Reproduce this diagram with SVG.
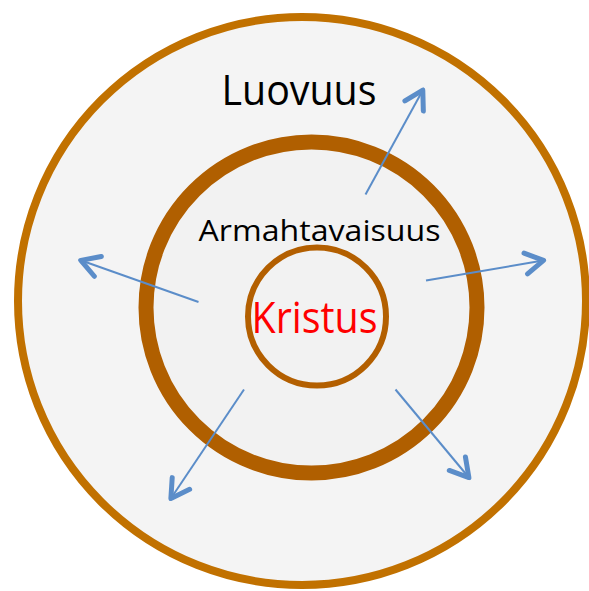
<svg xmlns="http://www.w3.org/2000/svg" width="589" height="591" viewBox="0 0 589 591">
  <style>
    .lbl { font-family: "Open Sans", "Noto Sans", "Liberation Sans", sans-serif; fill: #000000; }
    .arrow { stroke: #5B8DC9; stroke-width: 2; fill: none; marker-end: url(#head); }
  </style>
  <defs>
    <marker id="head" markerUnits="userSpaceOnUse" viewBox="-24 -14 28 28" refX="0" refY="0" markerWidth="28" markerHeight="28" orient="auto">
      <path d="M-20.5,-10.5 L-2.5,0 L-20.5,10.5" fill="none" stroke="#5B8DC9" stroke-width="5" stroke-linecap="round" stroke-linejoin="round"/>
    </marker>
    <filter id="soft" x="-5%" y="-5%" width="110%" height="110%">
      <feGaussianBlur stdDeviation="0.6"/>
    </filter>
  </defs>
  <rect width="589" height="591" fill="#FFFFFF"/>
  <g id="luovuus">
    <circle cx="302" cy="301" r="284" fill="#F4F4F4" stroke="#C17100" stroke-width="8"/>
    <text class="lbl" x="221.5" y="105" font-size="42" textLength="155" lengthAdjust="spacingAndGlyphs">Luovuus</text>
  </g>
  <g id="armahtavaisuus">
    <circle cx="311.5" cy="307.5" r="165.5" fill="#F2F2F2" stroke="#B05E00" stroke-width="15" filter="url(#soft)"/>
    <text class="lbl" x="198.5" y="240.5" font-size="30" textLength="242" lengthAdjust="spacingAndGlyphs">Armahtavaisuus</text>
  </g>
  <g id="kristus">
    <circle cx="317" cy="316.5" r="69" fill="#F2F2F2" stroke="#B35F00" stroke-width="6"/>
    <text class="lbl" x="251.5" y="333.3" font-size="43" fill="#FF0000" style="fill:#FF0000" textLength="126" lengthAdjust="spacingAndGlyphs">Kristus</text>
  </g>
  <g id="connectors">
    <line class="arrow" x1="365.5" y1="194.5" x2="424" y2="88"/>
    <line class="arrow" x1="426" y1="280.5" x2="546" y2="260"/>
    <line class="arrow" x1="198.5" y1="302" x2="78.5" y2="259.5"/>
    <line class="arrow" x1="244" y1="389.5" x2="169.5" y2="500.5"/>
    <line class="arrow" x1="395.5" y1="389.5" x2="470.5" y2="479.5"/>
  </g>
</svg>
